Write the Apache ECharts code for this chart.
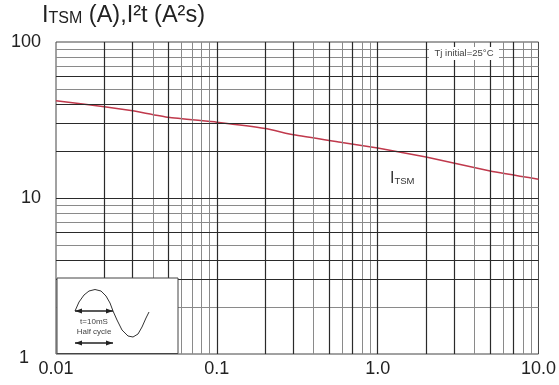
<!DOCTYPE html>
<html><head><meta charset="utf-8">
<script src="https://cdn.jsdelivr.net/npm/echarts@6/dist/echarts.min.js"></script>
<style>html,body{margin:0;padding:0;background:#fff}#c{width:559px;height:385px}</style>
</head><body><div id="c"></div>
<script>
// Data
const pulseWidth = [0.01, 0.02, 0.03, 0.05, 0.1, 0.2, 0.3, 0.6, 1.0, 2.0, 5.0, 10.0];
const itsm = [42.0, 38.5, 36.2, 32.9, 30.6, 27.9, 25.4, 22.7, 20.9, 18.3, 14.9, 13.2];
const xTickValues = [0.01, 0.1, 1, 10];
const xTickLabels = ['0.01', '0.1', '1.0', '10.0'];
const yTickValues = [1, 10, 100];
const yTickLabels = ['1', '10', '100'];
// grid line positions
const xGridDark = [0.1, 1, 0.02, 0.03, 0.05, 0.2, 0.3, 0.5, 0.7, 2, 3, 5, 7];
const xGridLight = [0.04, 0.06, 0.07, 0.08, 0.09, 0.4, 0.6, 0.8, 0.9, 4, 6, 8, 9];
const yGridDark = [10, 20, 30, 40, 60, 3, 4, 6];
const yGridLight = [50, 70, 80, 90, 2, 5, 7, 8, 9];

const FONT = '"Liberation Sans", Arial, sans-serif';
const chart = echarts.init(document.getElementById('c'), null, {renderer: 'canvas'});

function gl(vals, axis, color, width) {
  return vals.map(v => ({[axis]: v, lineStyle: {color: color, width: width, type: 'solid'}}));
}

chart.setOption({
  animation: false,
  backgroundColor: '#fff',
  grid: {left: 56, right: 19, top: 42, bottom: 31, show: true, borderColor: '#444', borderWidth: 1},
  xAxis: {
    type: 'log', logBase: 10, min: 0.01, max: 10,
    axisLine: {show: false}, axisTick: {show: false},
    splitLine: {show: false},
    axisLabel: {
      margin: 6, fontSize: 18, color: '#222', fontFamily: FONT, hideOverlap: false,
      formatter: v => { const i = xTickValues.findIndex(t => Math.abs(t - v) / t < 1e-6); return i >= 0 ? xTickLabels[i] : ''; }
    }
  },
  yAxis: {
    type: 'log', logBase: 10, min: 1, max: 100,
    axisLine: {show: false}, axisTick: {show: false},
    splitLine: {show: false},
    axisLabel: {
      margin: 15, fontSize: 18, color: '#222', fontFamily: FONT, hideOverlap: false,
      formatter: v => { const i = yTickValues.findIndex(t => Math.abs(t - v) / t < 1e-6); if (i < 0) return ''; return i === 0 ? '{low|' + yTickLabels[i] + '}' : yTickLabels[i]; },
      rich: {low: {fontSize: 18, color: '#222', fontFamily: FONT, padding: [8, 12, 0, 0]}}
    }
  },
  series: [
    {
      type: 'line', data: [], silent: true, z: 1,
      markLine: {
        silent: true, symbol: 'none', label: {show: false}, animation: false,
        data: [].concat(
          gl(xGridLight, 'xAxis', '#8a8a8a', 1),
          gl(yGridLight, 'yAxis', '#8a8a8a', 1),
          gl(xGridDark, 'xAxis', '#2a2a2a', 1.2),
          gl(yGridDark, 'yAxis', '#2a2a2a', 1.2)
        )
      }
    },
    {
      type: 'line', z: 3,
      data: pulseWidth.map((x, i) => [x, itsm[i]]),
      smooth: 0.15, showSymbol: false, symbol: 'none',
      lineStyle: {color: '#c0394c', width: 1.5}
    }
  ],
  graphic: [
    {type: 'text', left: 42, top: 4, z: 10, style: {
      text: '{b|I}{s|TSM}{b| (A),I²t (A²s)}', fill: '#222',
      rich: {b: {fontSize: 23.5, fontFamily: FONT, fill: '#222'}, s: {fontSize: 16, fontFamily: FONT, fill: '#222', padding: [5, 0, 0, 0]}}
    }},
    {type: 'rect', z: 10, shape: {x: 429, y: 47, width: 70, height: 13}, style: {fill: '#fff'}},
    {type: 'text', z: 11, x: 464, y: 53.5, style: {text: 'Tj initial=25°C', fontSize: 9.5, fontFamily: FONT, fill: '#444', align: 'center', verticalAlign: 'middle'}},
    {type: 'rect', z: 10, shape: {x: 388, y: 170, width: 36, height: 18}, style: {fill: '#fff'}},
    {type: 'text', z: 11, x: 390, y: 171, style: {
      text: '{b|I}{s|TSM}', rich: {b: {fontSize: 16, fontFamily: FONT, fill: '#333'}, s: {fontSize: 9.5, fontFamily: FONT, fill: '#333', padding: [4, 0, 0, 0]}}
    }},
    // inset
    {type: 'rect', z: 10, shape: {x: 57, y: 278, width: 121, height: 75.5}, style: {fill: '#fff', stroke: '#444', lineWidth: 1}},
    {type: 'polyline', z: 11, shape: {points: [[75,311],[79,302],[84,295],[89,291],[95,289.5],[101,291],[106,296],[110,303],[113,311],[117,320],[122,330],[128,336],[133,337],[138,334],[142,327],[146,318],[149,312]]}, style: {stroke: '#333', fill: null, lineWidth: 1}},
    {type: 'line', z: 11, shape: {x1: 75, y1: 311, x2: 113, y2: 311}, style: {stroke: '#222', lineWidth: 1.5}},
    {type: 'polygon', z: 11, shape: {points: [[75,311],[82,308.5],[82,313.5]]}, style: {fill: '#222'}},
    {type: 'polygon', z: 11, shape: {points: [[113,311],[106,308.5],[106,313.5]]}, style: {fill: '#222'}},
    {type: 'text', z: 11, x: 94, y: 322, style: {text: 't=10mS', fontSize: 8, fontFamily: FONT, fill: '#444', align: 'center', verticalAlign: 'middle'}},
    {type: 'text', z: 11, x: 94, y: 332, style: {text: 'Half cycle', fontSize: 8, fontFamily: FONT, fill: '#444', align: 'center', verticalAlign: 'middle'}},
    {type: 'line', z: 11, shape: {x1: 75, y1: 343, x2: 113, y2: 343}, style: {stroke: '#222', lineWidth: 1.5}},
    {type: 'polygon', z: 11, shape: {points: [[75,343],[82,340.5],[82,345.5]]}, style: {fill: '#222'}},
    {type: 'polygon', z: 11, shape: {points: [[113,343],[106,340.5],[106,345.5]]}, style: {fill: '#222'}}
  ]
});
</script>
</body></html>
